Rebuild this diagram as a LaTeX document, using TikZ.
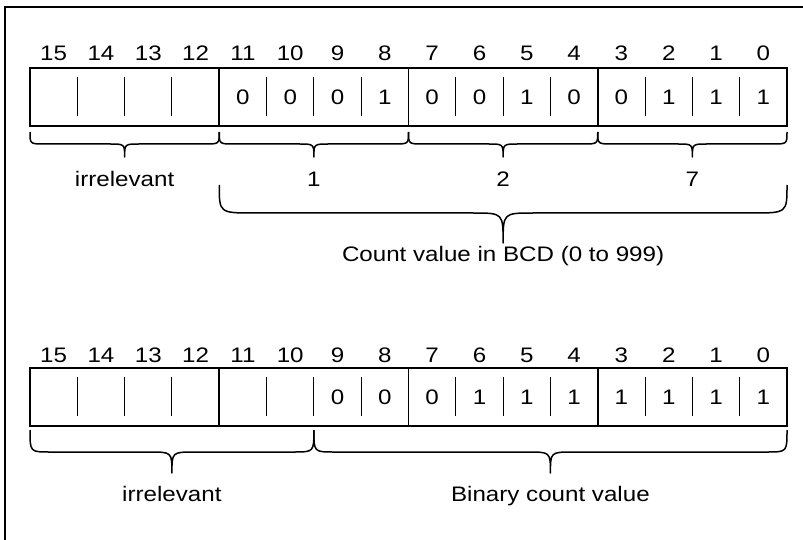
\documentclass[tikz,border=0pt]{standalone}
\usepackage{fontspec}
\setmainfont[FakeStretch=1.15]{Liberation Sans}
\newcommand\bracepath[7]{%
  \draw[bracel] (#1,#3) .. controls (#1,#4) .. ({#1+#6},#4)
    -- ({(#1+#2)/2-#7},#4) .. controls ({(#1+#2)/2},#4) .. ({(#1+#2)/2},#5)
    .. controls ({(#1+#2)/2},#4) .. ({(#1+#2)/2+#7},#4)
    -- ({#2-#6},#4) .. controls (#2,#4) .. (#2,#3);}
\begin{document}
\begin{tikzpicture}[x=1pt,y=-1pt,
  reg/.style={line width=1.6pt},
  tickl/.style={line width=0.9pt},
  bracel/.style={line width=1.5pt, line join=round},
  lbl/.style={font=\fontsize{21}{24}\selectfont, inner sep=0pt, anchor=base},
  framel/.style={line width=1.6pt}]
\useasboundingbox (0,0) rectangle (803,540);
\draw[framel] (5,540) -- (5,7) -- (803,7);
\def\W{47.3125}
% ---------- top register ----------
\draw[reg] (30,68) rectangle (787,126);
\foreach \i in {1,...,15} {
  \pgfmathsetmacro\xx{30+\i*\W}
  \pgfmathtruncatemacro\m{mod(\i,4)}
  \ifnum\m=0
    \draw[reg] (\xx,68) -- (\xx,126);
  \else
    \draw[tickl] (\xx,77) -- (\xx,116);
  \fi
}
\foreach \i in {0,...,15} {
  \pgfmathsetmacro\xc{30+(\i+0.5)*\W}
  \pgfmathtruncatemacro\b{15-\i}
  \node[lbl] (tb\b) at (\xc,61) {\b};
}
\foreach \v [count=\k from 4] in {0,0,0,1,0,0,1,0,0,1,1,1} {
  \pgfmathsetmacro\xc{30+(\k+0.5)*\W}
  \node[lbl] (tv\k) at (\xc,105) {\v};
}
\bracepath{30}{219.25}{132}{144}{157}{15}{15}
\bracepath{219.25}{408.5}{132}{144}{157}{15}{15}
\bracepath{408.5}{597.75}{132}{144}{157}{15}{15}
\bracepath{597.75}{787}{132}{144}{157}{15}{15}
\node[lbl] (irr1) at (124.6,187) {irrelevant};
\node[lbl] (d1) at (313.9,187) {1};
\node[lbl] (d2) at (503.1,187) {2};
\node[lbl] (d7) at (692.4,187) {7};
\bracepath{219.25}{787}{185}{213}{243}{35}{30}
\node[lbl] (bcd) at (503.1,261) {Count value in BCD (0 to 999)};
% ---------- bottom register ----------
\draw[reg] (30,368) rectangle (787,426);
\foreach \i in {1,...,15} {
  \pgfmathsetmacro\xx{30+\i*\W}
  \pgfmathtruncatemacro\m{mod(\i,4)}
  \ifnum\m=0
    \draw[reg] (\xx,368) -- (\xx,426);
  \else
    \draw[tickl] (\xx,377) -- (\xx,416);
  \fi
}
\foreach \i in {0,...,15} {
  \pgfmathsetmacro\xc{30+(\i+0.5)*\W}
  \pgfmathtruncatemacro\b{15-\i}
  \node[lbl] (bb\b) at (\xc,362) {\b};
}
\foreach \v [count=\k from 6] in {0,0,0,1,1,1,1,1,1,1} {
  \pgfmathsetmacro\xc{30+(\k+0.5)*\W}
  \node[lbl] (bv\k) at (\xc,404) {\v};
}
\bracepath{30}{313.875}{430}{452}{473}{20}{23}
\bracepath{313.875}{787}{430}{452}{473}{20}{23}
\node[lbl] (irr2) at (171.9,501) {irrelevant};
\node[lbl] (bin) at (550.4,501) {Binary count value};
\end{tikzpicture}
\end{document}
